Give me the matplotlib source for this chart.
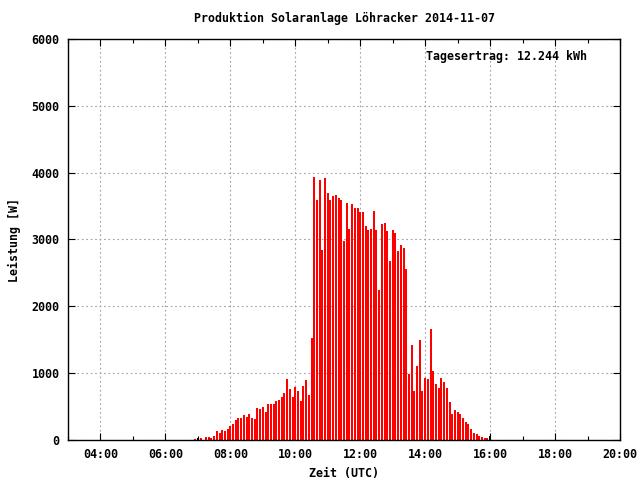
import matplotlib
matplotlib.use("Agg")
import matplotlib.pyplot as plt
from matplotlib.ticker import MultipleLocator, FuncFormatter
import numpy as np

# 5-minute samples, first one at 06:55 UTC
start_time = "06:55"
step_min = 5
power = [
    20, 35, 35, 0, 45, 45, 35, 60, 135, 105, 150, 135,          # 06:55 - 07:50
    165, 210, 240, 300, 330, 330, 375, 345, 390, 330, 315, 480,  # 07:55 - 08:50
    465, 495, 420, 540, 540, 540, 585, 600, 645, 705, 915, 765,  # 08:55 - 09:50
    645, 795, 735, 585, 810, 900, 675, 1530, 3935, 3595, 3890, 2845,  # 09:55 - 10:50
    3920, 3700, 3595, 3655, 3670, 3620, 3595, 2980, 3550, 3160, 3535, 3475,  # 10:55 - 11:50
    3475, 3415, 3415, 3205, 3145, 3160, 3430, 3145, 2245, 3235, 3250, 3130,  # 11:55 - 12:50
    2680, 3145, 3100, 2830, 2920, 2875, 2560, 990, 1420, 735, 1105, 1495,    # 12:55 - 13:50
    735, 930, 915, 1660, 1035, 840, 780, 930, 870, 780, 570, 390,            # 13:55 - 14:50
    450, 420, 390, 330, 270, 240, 165, 105, 90, 60, 45, 30,                  # 14:55 - 15:50
    30, 60,                                                                  # 15:55 - 16:00
]
black_times = ["07:00", "16:00"]

title = "Produktion Solaranlage Löhracker 2014-11-07"
xlabel = "Zeit (UTC)"
ylabel = "Leistung [W]"
yield_text = "Tagesertrag: 12.244 kWh"


def to_hours(s):
    h, m = s.split(":")
    return int(h) + int(m) / 60.0


t0 = to_hours(start_time)
hours = np.array([t0 + i * step_min / 60.0 for i in range(len(power))])
power = np.array(power)
black_mask = np.array([any(abs(h - to_hours(b)) < 1e-6 for b in black_times) for h in hours])

font = {"family": "DejaVu Sans Mono", "weight": "bold", "size": 8.4}
plt.rcParams["font.family"] = "DejaVu Sans Mono"
plt.rcParams["font.weight"] = "bold"
plt.rcParams["font.size"] = 8.4

fig = plt.figure(figsize=(6.4, 4.8), dpi=100)
ax = fig.add_axes([68 / 640, 40 / 480, 552 / 640, 401 / 480])

ax.vlines(hours[~black_mask], 0, power[~black_mask], color="#ff0000",
          linewidth=1.44, antialiased=False)
ax.vlines(hours[black_mask], 0, power[black_mask], color="#000000",
          linewidth=1.44, antialiased=False)

ax.set_xlim(3, 20)
ax.set_ylim(0, 6000)
ax.xaxis.set_major_locator(MultipleLocator(2))
ax.xaxis.set_minor_locator(MultipleLocator(1))
ax.yaxis.set_major_locator(MultipleLocator(1000))
ax.xaxis.set_major_formatter(FuncFormatter(lambda v, p: "%02d:00" % int(round(v))))
ax.tick_params(which="both", direction="in", top=True, right=True, width=0.8)
ax.tick_params(which="major", length=5, pad=6)
ax.tick_params(which="minor", length=3)
ax.grid(True, which="major", color="#a0a0a0", linestyle=(0, (1.5, 2.5)), linewidth=0.8)
ax.set_axisbelow(True)
for sp in ax.spines.values():
    sp.set_linewidth(1.0)

ax.set_title(title, fontdict=font, pad=12)
ax.set_xlabel(xlabel, fontdict=font, labelpad=4)
ax.set_ylabel(ylabel, fontdict=font, labelpad=8)
ax.text(0.940, 0.973, yield_text, transform=ax.transAxes, ha="right", va="top", fontdict=font)

fig.savefig("out.png", dpi=100)
